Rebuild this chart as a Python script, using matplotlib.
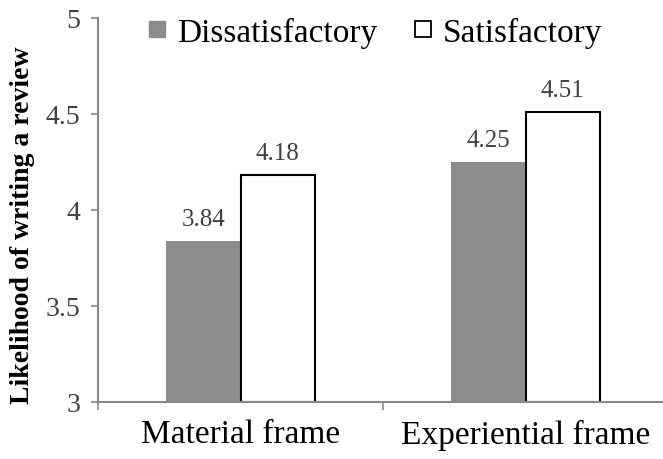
import matplotlib
matplotlib.use("Agg")
import matplotlib.pyplot as plt
from matplotlib.lines import Line2D
import numpy as np

categories = ["Material frame", "Experiential frame"]
series_names = ["Dissatisfactory", "Satisfactory"]
dissatisfactory = [3.84, 4.25]
satisfactory = [4.18, 4.51]
y_ticks = [3, 3.5, 4, 4.5, 5]
y_label = "Likelihood of writing a review"

plt.rcParams["font.family"] = ["Liberation Serif", "DejaVu Serif"]

fig = plt.figure(figsize=(6.63, 4.60), dpi=100)
ax = fig.add_axes([98 / 663, 57 / 460, 570 / 663, 384 / 460])

x = np.arange(len(categories))
w = 0.26
grey = "#8c8c8c"
ax.bar(x - w / 2, np.array(dissatisfactory) - 3, w, bottom=3,
       color=grey, edgecolor="none")
ax.bar(x + w / 2, np.array(satisfactory) - 3, w, bottom=3,
       color="white", edgecolor="black", linewidth=1.5)

label_color = "#404040"
for xs, vals in ((x - w / 2, dissatisfactory), (x + w / 2, satisfactory)):
    for xi, v in zip(xs, vals):
        ax.annotate(f"{v:.2f}", (xi, v), xytext=(0, 11.5),
                    textcoords="offset points", ha="center", va="baseline",
                    fontsize=18, color=label_color)

ax.set_xlim(-0.5, 1.5)
ax.set_ylim(3, 5)
ax.set_yticks(y_ticks)
ax.set_yticklabels([f"{t:g}" for t in y_ticks], fontsize=20, color=label_color)

# category labels centred, ticks on category boundaries
ax.set_xticks([-0.5, 0.5, 1.5])
ax.set_xticklabels([])
ax.set_xticks(x, minor=True)
ax.set_xticklabels(categories, minor=True, fontsize=24, color="black")
ax.tick_params(axis="x", which="minor", length=0, pad=12)
ax.tick_params(axis="x", which="major", length=6, width=1.2, color="#888888",
               direction="out")
ax.tick_params(axis="y", length=5, width=1.2, color="#888888",
               direction="out", pad=8)

for s in ("top", "right"):
    ax.spines[s].set_visible(False)
for s in ("left", "bottom"):
    ax.spines[s].set_color("#888888")
    ax.spines[s].set_linewidth(1.5)

ax.set_ylabel(y_label, fontsize=20, fontweight="bold")
ax.yaxis.set_label_coords(-0.11, 0.462)

handles = [
    Line2D([], [], linestyle="none", marker="s", markersize=12,
           markerfacecolor=grey, markeredgecolor=grey),
    Line2D([], [], linestyle="none", marker="s", markersize=11,
           markerfacecolor="white", markeredgecolor="black", markeredgewidth=1.3),
]
fig.legend(handles, series_names, loc="center", bbox_to_anchor=(374 / 663, 1 - 33 / 460),
           ncol=2, frameon=False, fontsize=24, handlelength=0.7,
           handletextpad=0.25, columnspacing=1.0, borderaxespad=0, borderpad=0)

fig.savefig("out.png", dpi=100)
